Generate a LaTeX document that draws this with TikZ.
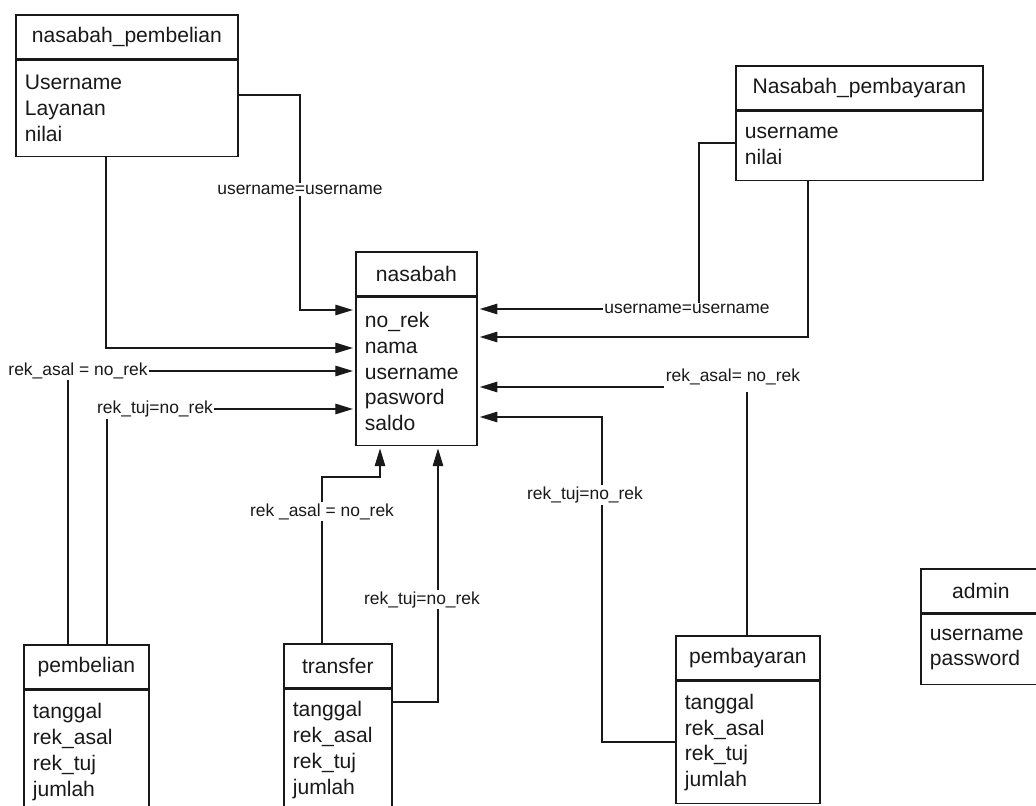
\documentclass[tikz,border=0pt]{standalone}
\usepackage{fontspec}
\setmainfont{Liberation Sans}
\usepackage{tikz}
\usetikzlibrary{positioning, shapes, arrows.meta}

\tikzset{
    enthead/.style={draw, line width=1.2pt, anchor=north west, minimum height=1.1cm, inner sep=0pt, font=\fontsize{15}{18.3}\selectfont},
    entbody/.style={draw, line width=1.2pt, anchor=north west, align=left, inner xsep=0.225cm, inner ysep=0pt, font=\fontsize{15}{18.3}\selectfont},
    rel/.style={fill=white, inner sep=1pt, font=\fontsize{12.4}{14}\selectfont},
    fk/.style={line width=0.8pt, shorten >=1.5pt, -{Triangle[length=12.5pt, width=7.5pt]}}
}

\begin{document}
\begin{tikzpicture}[x=0.025cm, y=-0.025cm, black!90]
            \clip (0,0) rectangle (1036,806);

            % Tables
            \node[enthead, minimum width=5.55cm] (nbh) at (15,14) {nasabah\_pembelian};
            \node[entbody, text width=5.1cm, minimum height=2.4cm] (nb) at (nbh.south west) {Username\\Layanan\\nilai};

            \node[enthead, minimum width=6.175cm] (nph) at (735,65) {Nasabah\_pembayaran};
            \node[entbody, text width=5.725cm, minimum height=1.725cm] (np) at (nph.south west) {username\\nilai};

            \node[enthead, minimum width=3.025cm] (nah) at (355,251) {nasabah};
            \node[entbody, text width=2.575cm, minimum height=3.7cm] (na) at (nah.south west) {no\_rek\\nama\\username\\pasword\\saldo};

            \node[enthead, minimum width=3.125cm] (pbh) at (23,644) {pembelian};
            \node[entbody, text width=2.675cm, minimum height=3.075cm] (pb) at (pbh.south west) {tanggal\\rek\_asal\\rek\_tuj\\jumlah};

            \node[enthead, minimum width=2.7cm] (tfh) at (283,643) {transfer};
            \node[entbody, text width=2.25cm, minimum height=3.025cm] (tf) at (tfh.south west) {tanggal\\rek\_asal\\rek\_tuj\\jumlah};

            \node[enthead, minimum width=3.6cm] (pyh) at (675,635) {pembayaran};
            \node[entbody, text width=3.15cm, minimum height=3.05cm] (py) at (pyh.south west) {tanggal\\rek\_asal\\rek\_tuj\\jumlah};

            \node[enthead, minimum width=3.0cm] (adh) at (920,568) {admin};
            \node[entbody, text width=2.55cm, minimum height=1.75cm] (ad) at (adh.south west) {username\\password};

            % Relations to nasabah
            \draw[fk] (nb.east |- 0,95) -- (300,95) -- node[rel, pos=0.44] {username=username} (300,310) -- (na.west |- 0,310);
            \draw[fk] (nb.south -| 106,0) |- (na.west |- 0,348);
            \draw[fk] (pbh.north -| 68,0) |- node[rel, pos=0.5, xshift=0.25cm] {rek\_asal = no\_rek} (na.west |- 0,371);
            \draw[fk] (pbh.north -| 107,0) |- node[rel, pos=0.5, xshift=1.2cm] {rek\_tuj=no\_rek} (na.west |- 0,409);

            \draw[fk] (tfh.north -| 322,0) -- node[rel, pos=0.79] {rek \_asal = no\_rek} (322,477) -| (na.south -| 380,0);
            \draw[fk] (tf.east |- 0,702) -| node[rel, pos=0.7, xshift=-0.4cm] {rek\_tuj=no\_rek} (na.south -| 438,0);

            \draw[fk] (np.west |- 0,143) -| (699,309) node[rel, xshift=-0.3cm] {username=username} -- (na.east |- 0,309);
            \draw[fk] (np.south -| 808,0) |- (na.east |- 0,337);
            \draw[fk] (pyh.north -| 747,0) |- node[rel, pos=0.5, xshift=-0.35cm, yshift=0.25cm, inner ysep=5pt] {rek\_asal= no\_rek} (na.east |- 0,387);
            \draw[fk] (py.west |- 0,742) -| node[rel, pos=0.88, xshift=-0.425cm] {rek\_tuj=no\_rek} (602,417) -- (na.east |- 0,417);
        \end{tikzpicture}
\end{document}
